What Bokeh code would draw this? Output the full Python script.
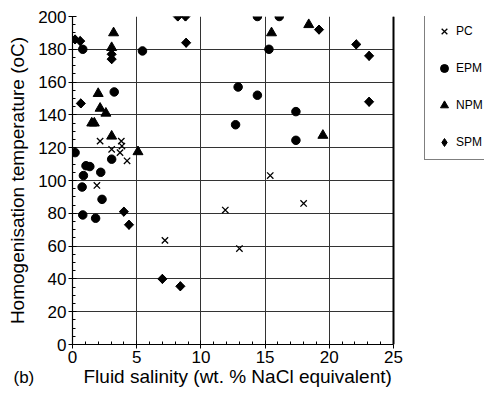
import math
from bokeh.plotting import figure
from bokeh.models import (FixedTicker, Legend, LegendItem, Range1d, BoxAnnotation, Span, Title)
from bokeh.embed import file_html
from bokeh.resources import INLINE

# ---- data ----
pc_x = [2.15, 3.8, 3.85, 3.05, 3.7, 4.25, 1.9, 7.2, 15.4, 11.9, 18.0, 13.0]
pc_y = [124, 124, 121, 119, 117, 112, 97, 63.5, 103, 82, 86, 58.5]

epm_x = [0.8, 3.25, 14.4, 16.1, 15.3, 12.9, 14.4, 17.4, 12.7, 17.4, 5.45,
         0.2, 3.05, 1.05, 1.35, 2.2, 0.85, 0.75, 2.3, 0.8, 1.8]
epm_y = [180, 154, 200, 200, 180, 157, 152, 142, 134, 124.5, 179,
         117, 113, 109, 108.5, 105, 103, 96, 88.5, 79, 77]

npm_x = [3.2, 3.05, 2.0, 2.15, 2.6, 1.5, 1.7, 3.05, 5.1, 15.5, 18.4, 19.5]
npm_y = [190, 181, 153, 144, 141, 135, 135, 127, 117.5, 190, 195, 127.5]

spm_x = [0.2, 0.6, 8.2, 8.8, 8.85, 0.65, 3.05, 3.05, 4.0, 4.4, 7.0, 8.4,
         19.2, 22.1, 23.1, 23.1]
spm_y = [186, 185, 200, 200, 184, 147, 177, 174, 81, 73, 40, 35.5,
         192, 183, 176, 148]

series_names = ["PC", "EPM", "NPM", "SPM"]
panel_tag = "(b)"
x_title = "Fluid salinity (wt. % NaCl equivalent)"
y_title = "Homogenisation temperature (oC)"
x_lim = (0, 25)
y_lim = (0, 200)
x_ticks = [0, 5, 10, 15, 20, 25]
y_ticks = [0, 20, 40, 60, 80, 100, 120, 140, 160, 180, 200]
x_minor = list(range(0, 26))
y_minor = list(range(0, 201, 5))

FONT = "Liberation Sans"

# plot area (0..25) occupies 321 px of a 412 px frame; the rest holds the key
X_VIEW_END = x_lim[1] * 412.0 / 321.0

p = figure(width=484, height=388, output_backend="svg", toolbar_location=None,
           x_range=Range1d(x_lim[0], X_VIEW_END), y_range=Range1d(*y_lim),
           min_border_left=72, min_border_right=0, min_border_top=16,
           min_border_bottom=44)
p.background_fill_color = "white"
p.border_fill_color = "white"
p.outline_line_color = None

xt = FixedTicker(ticks=x_ticks, minor_ticks=x_minor)
yt = FixedTicker(ticks=y_ticks, minor_ticks=y_minor)
p.xaxis.ticker = xt
p.yaxis.ticker = yt
p.xgrid.ticker = xt
p.ygrid.ticker = yt
p.xaxis.bounds = x_lim
p.yaxis.axis_label = y_title
for ax in (p.xaxis, p.yaxis):
    ax.axis_label_text_font = FONT
    ax.axis_label_text_font_size = "19px"
    ax.axis_label_text_font_style = "normal"
    ax.axis_label_text_color = "black"
    ax.major_label_text_font = FONT
    ax.major_label_text_font_size = "17px"
    ax.major_label_text_color = "black"
    ax.axis_line_color = "black"
    ax.axis_line_width = 1.2
    ax.major_tick_line_color = "black"
    ax.minor_tick_line_color = "black"
    ax.major_tick_in = 4
    ax.major_tick_out = 4
    ax.minor_tick_in = 3
    ax.minor_tick_out = 0
    ax.major_label_standoff = 2
p.yaxis.axis_label_standoff = 7

for g in (p.xgrid, p.ygrid):
    g.grid_line_color = "#333333"
    g.grid_line_width = 1
    g.grid_line_alpha = 1.0

r_pc = p.scatter(pc_x, pc_y, marker="x", size=9, line_color="black", line_width=1.3)
r_epm = p.scatter(epm_x, epm_y, marker="circle", size=8.5, fill_color="black", line_color="black")
r_npm = p.scatter(npm_x, npm_y, marker="triangle", size=10, fill_color="black", line_color="black")
# diamond glyph used for the key (legend swatches ignore marker angle); it is
# fully covered by the rotated squares drawn on top of it
r_spm_key = p.scatter(spm_x, spm_y, marker="diamond", size=9,
                      fill_color="black", line_color="black")
r_spm = p.scatter(spm_x, spm_y, marker="square", size=6.5, angle=math.pi / 4,
                  fill_color="black", line_color="black")

# blank out the part of the frame right of the plot area, and draw its border
p.add_layout(BoxAnnotation(left=x_lim[1], fill_color="white", fill_alpha=1.0,
                           line_color=None))
p.add_layout(Span(location=x_lim[1], dimension="height", line_color="black",
                  line_width=2))

legend = Legend(items=[LegendItem(label=n, renderers=[r]) for n, r in
                       zip(series_names, [r_pc, r_epm, r_npm, r_spm_key])],
                location=(352, 184))
legend.border_line_color = "black"
legend.border_line_width = 1.2
legend.background_fill_color = "white"
legend.background_fill_alpha = 1
legend.label_text_font = FONT
legend.label_text_font_size = "12px"
legend.label_text_color = "black"
legend.glyph_height = 20
legend.glyph_width = 24
legend.label_height = 20
legend.spacing = 17
legend.padding = 7
legend.margin = 0
legend.label_standoff = 0
p.add_layout(legend)

# x-axis title, centred under the 0..25 plot area
xlab = Title(text=x_title, align="left", offset=11, standoff=-4,
             text_font=FONT, text_font_size="19px", text_font_style="normal",
             text_color="black")
p.add_layout(xlab, "below")

# panel tag at the bottom-left, on the same line as the x-axis title
tag = Title(text=panel_tag + "\n", align="left", offset=-59, standoff=-42,
            text_font=FONT, text_font_size="17px", text_font_style="normal",
            text_color="black")
p.add_layout(tag, "below")

open("out.html", "w").write(file_html(p, INLINE))
